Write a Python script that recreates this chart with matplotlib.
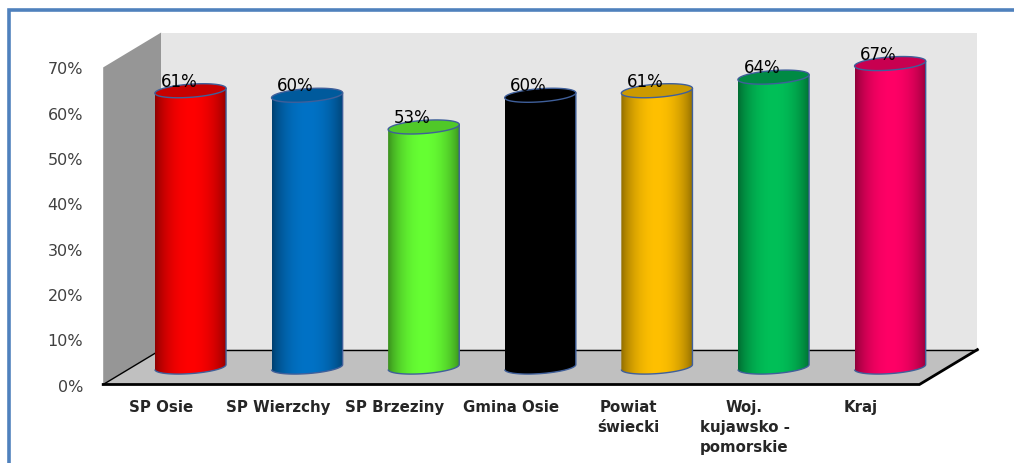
import numpy as np
import matplotlib
matplotlib.use("Agg")
from matplotlib import pyplot as plt
from matplotlib.patches import Polygon, PathPatch
from matplotlib.path import Path

# data
categories = ["SP Osie", "SP Wierzchy", "SP Brzeziny", "Gmina Osie", "Powiat\nświecki",
              "Woj.\nkujawsko -\npomorskie", "Kraj"]
values = [61, 60, 53, 60, 61, 64, 67]
y_ticks = [0, 10, 20, 30, 40, 50, 60, 70]

# colours for the bars: side, top
bar_colors = ["#ff0000", "#0072c6", "#66ff33", "#000000", "#ffc000", "#00c058", "#ff0066"]
top_colors = ["#c80000", "#005a9c", "#50c828", "#000000", "#cc9a00", "#008a44", "#c80050"]

plt.rcParams["font.family"] = ["DejaVu Sans"]

fig = plt.figure(figsize=(10.14, 4.64), dpi=100)
ax = fig.add_axes([0, 0, 1, 1])

# one category = 116.6 px, one percent = 4.53 px
xlim = (-1.385, 7.311)
ylim = (-17.33, 85.1)
ax.axis("off")

dx = 0.497   # depth of the fake 3d box
dy = 7.7
left = -0.5
right = len(categories) - 0.5
top = max(y_ticks)

# walls and floor
ax.add_patch(Polygon([(left, 0), (left + dx, dy), (left + dx, top + dy), (left, top)],
                     fc="#969696", ec="none", zorder=1))
ax.add_patch(Polygon([(left + dx, dy), (right + dx, dy), (right + dx, top + dy), (left + dx, top + dy)],
                     fc="#e6e6e6", ec="none", zorder=1))
ax.add_patch(Polygon([(left, 0), (right, 0), (right + dx, dy), (left + dx, dy)],
                     fc="#c0c0c0", ec="none", zorder=1))
ax.plot([left + dx, right + dx], [dy, dy], color="black", lw=1.0, zorder=2)
ax.plot([left, left + dx], [0, dy], color="black", lw=1.0, zorder=2)
ax.plot([left, right, right + dx], [0, 0, dy], color="black", lw=2.0, zorder=2,
        solid_joinstyle="miter")

# cylinders
rx = 0.305
ry = 1.45
shear = 0.55   # ellipse goes up towards the right
t = np.linspace(np.pi, 2 * np.pi, 60)
t2 = np.linspace(0, np.pi, 60)
ramp = np.linspace(-1, 1, 200)
shade = 0.55 + 0.45 * np.clip(1 - np.abs(ramp) ** 2, 0, 1) ** 0.8

for i, v in enumerate(values):
    cx = i + dx / 2
    y0 = dy / 2
    y1 = v + dy / 2
    # body outline: bottom arc and back over the top arc
    bx = cx + rx * np.cos(t)
    by = y0 + ry * np.sin(t) + shear * np.cos(t)
    ux = cx + rx * np.cos(t[::-1])
    uy = y1 + shear * np.cos(t[::-1])
    body = Path(np.vstack([np.column_stack([bx, by]), np.column_stack([ux, uy])]))
    rgb = np.array(matplotlib.colors.to_rgb(bar_colors[i]))
    grad = (shade[:, None] * rgb)[None, :, :]
    im = ax.imshow(grad, extent=(cx - rx, cx + rx, y0 - ry - 2, y1 + ry + 2),
                   aspect="auto", zorder=3, interpolation="bilinear")
    outline = PathPatch(body, fc="none", ec="#3f5f9a", lw=1.0, zorder=4)
    ax.add_patch(outline)
    im.set_clip_path(outline)
    # top ellipse
    tt = np.r_[t, t2]
    ex = cx + rx * np.cos(tt)
    ey = y1 + ry * np.sin(tt) + shear * np.cos(tt)
    ax.add_patch(Polygon(np.column_stack([ex, ey]), closed=True, fc=top_colors[i],
                         ec="#3f5f9a", lw=1.0, zorder=5))
    ax.text(cx - 0.1, y1 + 2.2, f"{v}%", ha="center", va="center", fontsize=12,
            color="black", zorder=6)

# axis labels
for tick in y_ticks:
    ax.text(-0.672, tick - 0.35, f"{tick}%", ha="right", va="center", fontsize=11.5, color="#404040")

for i, name in enumerate(categories):
    ax.text(i, -3.2, name, ha="center", va="top", fontsize=10.8, fontweight="bold",
            color="#262626", linespacing=1.43)

# frame around the picture
frame_x = xlim[0] + 9 / 1014 * (xlim[1] - xlim[0])
frame_y = ylim[1] - 10.7 / 464 * (ylim[1] - ylim[0])
ax.plot([frame_x, frame_x, xlim[1]], [ylim[0], frame_y, frame_y], color="#4f81bd", lw=2.6,
        solid_joinstyle="miter", zorder=7)

ax.set_xlim(xlim)
ax.set_ylim(ylim)
fig.savefig("out.png", dpi=100)
